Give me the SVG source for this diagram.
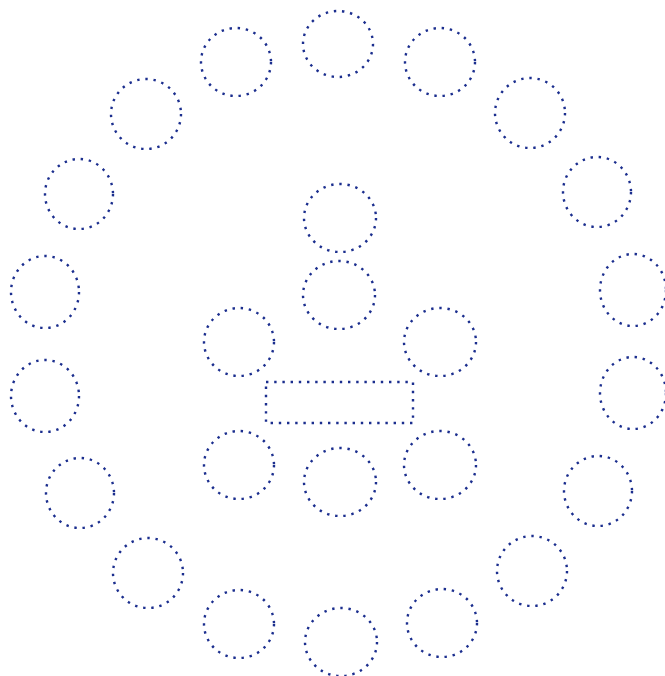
<svg xmlns="http://www.w3.org/2000/svg" width="665" height="676" viewBox="0 0 665 676">
<style>
.n{fill:none;stroke:#1b2e8e;stroke-width:2.4;stroke-dasharray:2.4 5.8;}
</style>
<rect width="665" height="676" fill="#fff"/>
<g id="o1"><ellipse class="n" cx="338" cy="44" rx="35" ry="33"/></g>
<g id="o2"><ellipse class="n" cx="440" cy="62" rx="35" ry="34"/></g>
<g id="o3"><ellipse class="n" cx="530" cy="113" rx="35" ry="35"/></g>
<g id="o4"><ellipse class="n" cx="597" cy="192" rx="34" ry="35"/></g>
<g id="o5"><ellipse class="n" cx="633" cy="290" rx="33" ry="36"/></g>
<g id="o6"><ellipse class="n" cx="633" cy="393" rx="33" ry="36"/></g>
<g id="o7"><ellipse class="n" cx="598" cy="491" rx="34" ry="35"/></g>
<g id="o8"><ellipse class="n" cx="532" cy="571" rx="35" ry="35"/></g>
<g id="o9"><ellipse class="n" cx="442" cy="623" rx="35" ry="34"/></g>
<g id="o10"><ellipse class="n" cx="341" cy="642" rx="36" ry="34"/></g>
<g id="o11"><ellipse class="n" cx="239" cy="624" rx="35" ry="34"/></g>
<g id="o12"><ellipse class="n" cx="148" cy="573" rx="35" ry="35"/></g>
<g id="o13"><ellipse class="n" cx="80" cy="493" rx="34" ry="35"/></g>
<g id="o14"><ellipse class="n" cx="45" cy="396" rx="34" ry="36"/></g>
<g id="o15"><ellipse class="n" cx="45" cy="292" rx="34" ry="36"/></g>
<g id="o16"><ellipse class="n" cx="79" cy="194" rx="34" ry="35"/></g>
<g id="o17"><ellipse class="n" cx="146" cy="114" rx="35" ry="35"/></g>
<g id="o18"><ellipse class="n" cx="236" cy="62" rx="35" ry="34"/></g>
<g id="i1"><ellipse class="n" cx="340" cy="218" rx="36" ry="34"/></g>
<g id="i2"><ellipse class="n" cx="339" cy="295" rx="36" ry="34"/></g>
<g id="i3"><ellipse class="n" cx="239" cy="342" rx="35" ry="34"/></g>
<g id="i4"><ellipse class="n" cx="440" cy="342" rx="36" ry="34"/></g>
<g id="i5"><ellipse class="n" cx="239" cy="465" rx="35" ry="34"/></g>
<g id="i6"><ellipse class="n" cx="340" cy="482" rx="36" ry="34"/></g>
<g id="i7"><ellipse class="n" cx="440" cy="465" rx="36" ry="34"/></g>
<g id="center"><rect class="n" x="266" y="382" width="147" height="41"/></g>
<g id="connectors"></g>
</svg>
